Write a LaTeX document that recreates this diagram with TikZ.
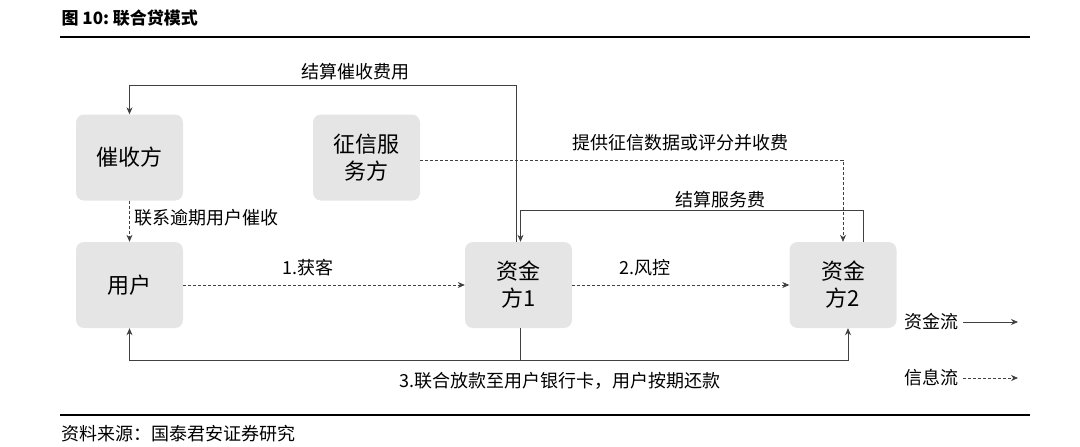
\documentclass[tikz,border=0pt]{standalone}
\usepackage{fontspec}
\setmainfont{Noto Sans CJK SC}
\usetikzlibrary{arrows.meta}
\begin{document}
\begin{tikzpicture}[x=1pt,y=-1pt,
  box/.style={fill=black!10,rounded corners=8pt,minimum width=107pt,minimum height=86pt,font=\fontsize{22}{27}\selectfont,align=center,inner sep=0},
  lbl/.style={font=\fontsize{18}{21}\selectfont,inner sep=1pt},
  flow/.style={-{Stealth[length=7pt,width=6pt]},line width=0.7pt,black!75},
  info/.style={flow,densely dashed}]
\useasboundingbox (0,0) rectangle (1080,447);
\node[anchor=west,font=\bfseries\fontsize{17}{19}\selectfont] (title) at (58,18) {图 10:\ 联合贷模式};
\draw[line width=2pt] (60,37) -- (1030,37);
\draw[line width=1.5pt] (60,415) -- (1030,415);
\node[anchor=west,font=\fontsize{18}{20}\selectfont] (src) at (58,434) {资料来源：国泰君安证券研究};
\node[box] (cs) at (129.5,157.5) {催收方};
\node[box] (zx) at (366.5,157.5) {征信服\\务方};
\node[box] (yh) at (129.5,285) {用户};
\node[box] (z1) at (518.5,285) {资金\\方1};
\node[box] (z2) at (843,285) {资金\\方2};
\draw[flow] (z1.north) ++(-2,0) coordinate (a) -- (a|-0,85) -| (cs.north);
\node[lbl] (l1) at (355,72) {结算催收费用};
\draw[info] (zx.east|-0,160) -- (843,160) coordinate (b) -- (b|-z2.north);
\node[lbl] (l2) at (680,143) {提供征信数据或评分并收费};
\draw[flow] (z2.north) ++(20,0) coordinate (c) -- (c|-0,210) -| ([xshift=2pt]z1.north);
\node[lbl] (l3) at (720,200) {结算服务费};
\draw[info] (cs.south) -- (yh.north);
\node[lbl,anchor=west] (l4) at (133,218) {联系逾期用户催收};
\draw[info] (yh.east) -- (z1.west);
\node[lbl] (l5) at (308,268) {1.获客};
\draw[info] (z1.east) -- (z2.west);
\node[lbl] (l6) at (645,268) {2.风控};
\draw[flow] (z1.south) ++(2,0) coordinate (d) -- (d|-0,360) -| (yh.south);
\draw[flow] (d|-0,360) -| ([xshift=5pt]z2.south);
\node[lbl] (l7) at (560,381) {3.联合放款至用户银行卡，用户按期还款};
\node[lbl,anchor=west] (lg1) at (903,322) {资金流};
\coordinate (e1) at (1018,322);
\draw[flow] (lg1.east) ++(4,0) -- (e1);
\node[lbl,anchor=west] (lg2) at (903,378) {信息流};
\coordinate (e2) at (1018,378);
\draw[info] (lg2.east) ++(4,0) -- (e2);
\end{tikzpicture}
\end{document}
